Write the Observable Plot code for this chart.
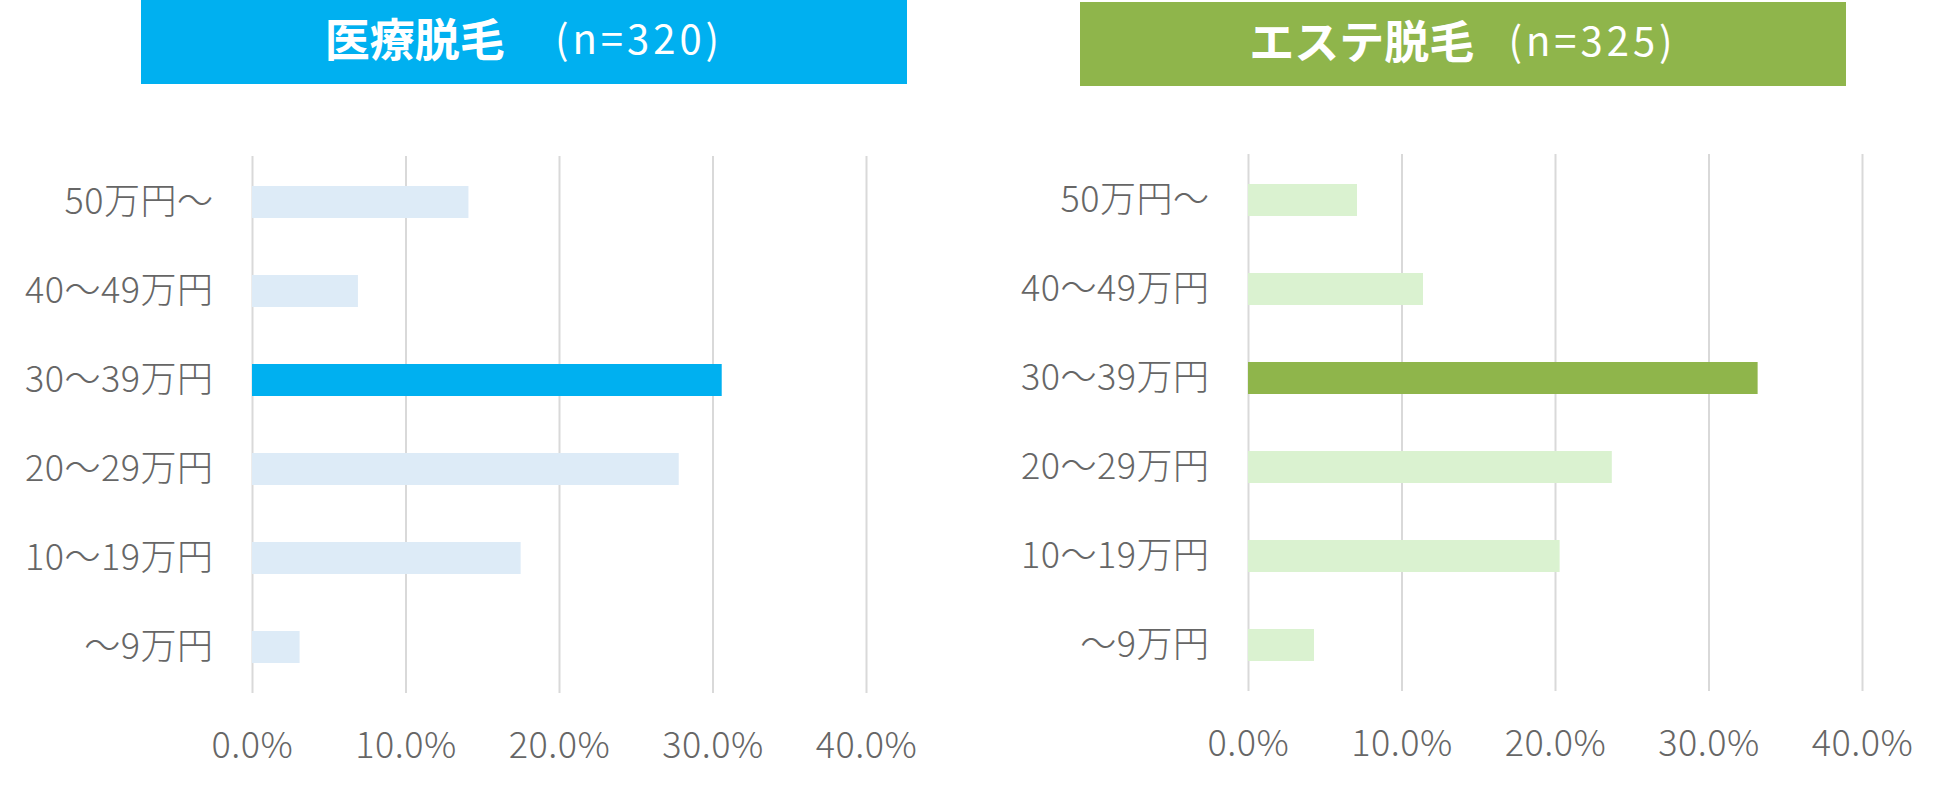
<!DOCTYPE html>
<html>
<head>
<meta charset="utf-8">
<script src="https://cdn.jsdelivr.net/npm/d3@7"></script>
<script src="https://cdn.jsdelivr.net/npm/@observablehq/plot@0.6"></script>
<style>
  html, body { margin: 0; padding: 0; background: #fff; }
  #page { position: relative; width: 1950px; height: 796px; overflow: hidden; font-family: "Noto Sans CJK JP", "Noto Sans", sans-serif; }
  .title { position: absolute; width: 766px; height: 84px; display: flex; align-items: center; justify-content: center; box-sizing: border-box; padding-bottom: 10px; color: #fff; white-space: pre; }
  .title .main { font-weight: 700; font-size: 45px; }
  .title .n { font-weight: 400; font-size: 40px; letter-spacing: 4px; }
  .panel { position: absolute; }
</style>
</head>
<body>
<div id="page">
  <div class="title" id="t1" style="left:141px; top:0px; background:#00b0f0;"><span class="main">医療脱毛</span><span class="n" style="margin-left:50px;">(n=320)</span></div>
  <div class="title" id="t2" style="left:1080px; top:2px; background:#8fb54b;"><span class="main">エステ脱毛</span><span class="n" style="margin-left:34px;">(n=325)</span></div>
  <div class="panel" id="p1" style="left:0px; top:90px;"></div>
  <div class="panel" id="p2" style="left:996px; top:88px;"></div>
</div>
<script>
const categories = ["50万円～", "40～49万円", "30～39万円", "20～29万円", "10～19万円", "～9万円"];
const medicalValues = [14.1, 6.9, 30.6, 27.8, 17.5, 3.1];
const estheticValues = [7.1, 11.4, 33.2, 23.7, 20.3, 4.3];
const highlightCategory = "30～39万円";
const xTicks = [0, 10, 20, 30, 40];

function makeChart(values, strong, light, width, marginRight) {
  const data = categories.map((c, i) => ({category: c, value: values[i]}));
  return Plot.plot({
    width: width,
    height: 706,
    marginLeft: 252,
    marginRight: marginRight,
    marginTop: 66,
    marginBottom: 103,
    style: {
      fontFamily: '"Noto Sans CJK JP", "Noto Sans", sans-serif',
      fontSize: "36px",
      fontWeight: 300,
      letterSpacing: "0.5px",
      color: "#666666",
      background: "transparent",
      overflow: "visible"
    },
    x: {domain: [0, 40]},
    y: {domain: categories, paddingInner: 0.64, paddingOuter: 0.32},
    color: {type: "identity"},
    marks: [
      Plot.ruleX(xTicks, {stroke: "#d9d9d9", strokeWidth: 2}),
      Plot.barX(data, {
        x: "value",
        y: "category",
        fill: d => d.category === highlightCategory ? strong : light
      }),
      Plot.axisY({tickSize: 0, tickPadding: 39, label: null}),
      Plot.axisX({ticks: xTicks, tickSize: 0, tickPadding: 39, label: null, tickFormat: d => d.toFixed(1) + "%"})
    ]
  });
}

document.getElementById("p1").appendChild(makeChart(medicalValues, "#00b0f0", "#ddebf7", 975, 109));
document.getElementById("p2").appendChild(makeChart(estheticValues, "#8fb54b", "#daf2d0", 954, 88));
</script>
</body>
</html>
